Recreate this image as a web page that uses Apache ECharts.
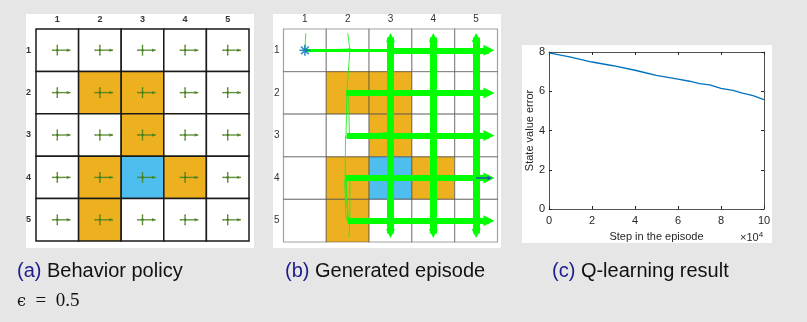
<!DOCTYPE html>
<html>
<head>
<meta charset="utf-8">
<script src="https://cdn.jsdelivr.net/npm/echarts@6/dist/echarts.min.js"></script>
<style>
html,body{margin:0;padding:0;background:#e6e6e6;}
#chart{width:807px;height:322px;}
</style>
</head>
<body>
<div id="chart"></div>
<script>
// ---------------- data ----------------
const gridCols = ['1', '2', '3', '4', '5'];
const gridRows = ['1', '2', '3', '4', '5'];
// forbidden cells as [col, row] (1-based)
const forbiddenCells = [[2, 2], [3, 2], [3, 3], [2, 4], [4, 4], [2, 5]];
const targetCell = [3, 4];
// behavior policy probabilities, order: up, right, down, left, stay (eps = 0.5, greedy = right)
const actionProbs = [0.1, 0.6, 0.1, 0.1, 0.1];
// generated episode: thick bands (many overlapping visits), [x1, y1, x2, y2] in grid coords
const episodeRowBands = [
  [3.0, 1.0, 5.3, 1.0],
  [1.97, 2.0, 5.3, 2.0],
  [1.98, 3.0, 5.3, 3.0],
  [1.95, 4.0, 5.3, 4.0],
  [2.0, 5.0, 5.3, 5.0]
];
const episodeColBands = [
  [3.0, 0.7, 3.0, 5.3],
  [4.0, 0.7, 4.0, 5.3],
  [5.0, 0.7, 5.0, 5.3]
];
const episodeRow1Start = [[1.0, 1.0], [3.0, 1.0]];
// sparse (thin) parts of the episode
const episodeThin = [
  [[1.02, 0.6], [1.0, 1.0], [2.05, 0.97], [2.0, 0.6]],
  [[1.0, 1.0], [2.1, 1.03], [2.05, 0.95], [1.97, 1.0]],
  [[2.05, 1.0], [1.98, 2.0], [1.96, 3.05], [2.95, 2.92]],
  [[2.02, 2.0], [2.04, 3.0], [3.0, 3.0]],
  [[1.95, 3.0], [1.94, 4.0], [2.02, 5.02], [3.0, 4.95]],
  [[2.05, 4.0], [2.05, 5.05], [2.03, 5.4]],
  [[1.97, 4.05], [2.0, 5.0], [3.0, 5.0]],
  [[2.0, 4.0], [1.93, 4.05], [1.96, 4.98]]
];
const startState = [1, 1];
const finalArrow = [[5.0, 4.0], [5.35, 4.0]];
// Q-learning result: state value error vs step (x in units of 1e4)
const stepX = [0, 0.96, 2.0, 2.98, 4.0, 4.53, 4.99, 5.53, 6.0, 6.54, 7.0, 7.47, 8.0, 8.56, 9.0, 9.49, 10];
const valueError = [7.95, 7.75, 7.49, 7.30, 7.07, 6.93, 6.81, 6.71, 6.62, 6.51, 6.39, 6.32, 6.15, 6.05, 5.91, 5.78, 5.57];

// ---------------- helpers ----------------
const ORANGE = '#EDB120', BLUE = '#4DBEEE';
function cellType(c, r) {
  if (c === targetCell[0] && r === targetCell[1]) return 2;
  for (const f of forbiddenCells) if (f[0] === c && f[1] === r) return 1;
  return 0;
}
const cellData = [];
for (let r = 1; r <= 5; r++) for (let c = 1; c <= 5; c++) cellData.push([c - 1, r - 1, cellType(c, r)]);

function cellRender(stroke, lw) {
  return function (params, api) {
    const p = api.coord([api.value(0), api.value(1)]);
    const s = api.size([1, 1]);
    const t = api.value(2);
    return {
      type: 'rect',
      shape: { x: p[0] - s[0] / 2, y: p[1] - s[1] / 2, width: s[0], height: s[1] },
      style: { fill: t === 2 ? BLUE : (t === 1 ? ORANGE : '#ffffff'), stroke: stroke, lineWidth: lw }
    };
  };
}

const dirs = [[0, -1], [1, 0], [0, 1], [-1, 0]];
function policyRender(params, api) {
  const p = api.coord([api.value(0), api.value(1)]);
  const s = api.size([1, 1]);
  const col = 'rgba(72,128,30,0.85)';
  const children = [];
  for (let a = 0; a < 4; a++) {
    const len = 0.4 * Math.sqrt(actionProbs[a]) * s[0];
    const dx = dirs[a][0], dy = dirs[a][1];
    const ex = p[0] + dx * len, ey = p[1] + dy * len;
    children.push({ type: 'line', shape: { x1: p[0], y1: p[1], x2: ex, y2: ey }, style: { stroke: col, lineWidth: 1.4 } });
    const hl = len * 0.28, hw = len * 0.13;
    const bx = ex - dx * hl, by = ey - dy * hl;
    children.push({ type: 'polygon', shape: { points: [[ex, ey], [bx - dy * hw, by + dx * hw], [bx + dy * hw, by - dx * hw]] }, style: { fill: col } });
  }
  children.push({ type: 'circle', shape: { cx: p[0], cy: p[1], r: 1.3 }, style: { fill: col } });
  return { type: 'group', children: children };
}

// ---------------- option ----------------
const labelFontA = { fontSize: 9, color: '#333', fontWeight: 'bold', fontFamily: 'Liberation Sans' };
const labelFontB = { fontSize: 10, color: '#333', fontFamily: 'Liberation Sans' };
const cFont = { fontSize: 11, color: '#262626', fontFamily: 'Liberation Sans' };
const cLine = { onZero: false, lineStyle: { color: '#262626', width: 0.8 } };
const cTick = { inside: true, length: 3, lineStyle: { color: '#262626' } };

const option = {
  animation: false,
  backgroundColor: '#e6e6e6',
  grid: [
    { left: 36, top: 29, width: 213, height: 212 },
    { left: 283.5, top: 29, width: 214, height: 213 },
    { left: 549, top: 52, width: 215, height: 157 }
  ],
  xAxis: [
    { gridIndex: 0, type: 'category', data: gridCols, position: 'top', axisLine: { show: false }, axisTick: { show: false }, axisLabel: Object.assign({ margin: 5 }, labelFontA), splitLine: { show: false } },
    { gridIndex: 0, type: 'value', min: 0.5, max: 5.5, show: false },
    { gridIndex: 1, type: 'category', data: gridCols, position: 'top', axisLine: { show: false }, axisTick: { show: false }, axisLabel: Object.assign({ margin: 5 }, labelFontB), splitLine: { show: false } },
    { gridIndex: 1, type: 'value', min: 0.5, max: 5.5, show: false },
    { gridIndex: 2, type: 'value', min: 0, max: 10, interval: 2, position: 'bottom',
      axisLine: cLine, axisTick: cTick,
      axisLabel: Object.assign({ margin: 6 }, cFont), splitLine: { show: false },
      name: 'Step in the episode', nameLocation: 'middle', nameGap: 22, nameTextStyle: cFont },
    { gridIndex: 2, type: 'value', min: 0, max: 10, interval: 2, position: 'top',
      axisLine: cLine, axisTick: cTick,
      axisLabel: { show: false }, splitLine: { show: false } }
  ],
  yAxis: [
    { gridIndex: 0, type: 'category', data: gridRows, inverse: true, axisLine: { show: false }, axisTick: { show: false }, axisLabel: Object.assign({ margin: 5 }, labelFontA), splitLine: { show: false } },
    { gridIndex: 0, type: 'value', min: 0.5, max: 5.5, inverse: true, show: false },
    { gridIndex: 1, type: 'category', data: gridRows, inverse: true, axisLine: { show: false }, axisTick: { show: false }, axisLabel: Object.assign({ margin: 4 }, labelFontB), splitLine: { show: false } },
    { gridIndex: 1, type: 'value', min: 0.5, max: 5.5, inverse: true, show: false },
    { gridIndex: 2, type: 'value', min: 0, max: 8, interval: 2, position: 'left',
      axisLine: cLine, axisTick: cTick,
      axisLabel: Object.assign({ margin: 4 }, cFont), splitLine: { show: false },
      name: 'State value error', nameLocation: 'middle', nameGap: 13, nameRotate: 90, nameTextStyle: cFont },
    { gridIndex: 2, type: 'value', min: 0, max: 8, interval: 2, position: 'right',
      axisLine: cLine, axisTick: cTick,
      axisLabel: { show: false }, splitLine: { show: false } }
  ],
  graphic: [
    { type: 'rect', z: -1, shape: { x: 26, y: 14, width: 228, height: 234 }, style: { fill: '#ffffff' } },
    { type: 'rect', z: -1, shape: { x: 273, y: 14, width: 228, height: 234 }, style: { fill: '#ffffff' } },
    { type: 'rect', z: -1, shape: { x: 522, y: 45, width: 250, height: 198 }, style: { fill: '#ffffff' } },
    { type: 'text', left: 740, top: 231, style: { text: '×10{s|4}', font: '11px Liberation Sans', fill: '#262626',
      rich: { s: { fontSize: 8, verticalAlign: 'top', padding: [0, 0, 6, 0], fill: '#262626' } } } },
    { type: 'text', left: 17, top: 261, style: { text: '{a|(a)} Behavior policy', font: '20px Liberation Sans', fill: '#111',
      rich: { a: { fill: '#1c1c8c', fontSize: 20, fontFamily: 'Liberation Sans' } } } },
    { type: 'text', left: 285, top: 261, style: { text: '{a|(b)} Generated episode', font: '20px Liberation Sans', fill: '#111',
      rich: { a: { fill: '#1c1c8c', fontSize: 20, fontFamily: 'Liberation Sans' } } } },
    { type: 'text', left: 552, top: 261, style: { text: '{a|(c)} Q-learning result', font: '20px Liberation Sans', fill: '#111',
      rich: { a: { fill: '#1c1c8c', fontSize: 20, fontFamily: 'Liberation Sans' } } } },
    { type: 'text', left: 17, top: 292, style: { text: '{e|ϵ}  =  0.5', font: '19px Liberation Serif', fill: '#111',
      rich: { e: { fontFamily: 'DejaVu Serif', fontSize: 16, fill: '#111' } } } }
  ],
  series: [
    { type: 'custom', xAxisIndex: 0, yAxisIndex: 0, data: cellData, renderItem: cellRender('#1a1a1a', 1.5), z: 1 },
    { type: 'custom', xAxisIndex: 0, yAxisIndex: 0, data: cellData, renderItem: policyRender, z: 3 },
    { type: 'custom', xAxisIndex: 2, yAxisIndex: 2, data: cellData, renderItem: cellRender('rgba(70,70,70,0.5)', 1.2), z: 1 },
    { type: 'lines', coordinateSystem: 'cartesian2d', xAxisIndex: 3, yAxisIndex: 3, z: 3,
      polyline: true, lineStyle: { color: '#22ee22', width: 1, opacity: 0.9 },
      data: episodeThin.map(p => ({ coords: p })) },
    { type: 'lines', coordinateSystem: 'cartesian2d', xAxisIndex: 3, yAxisIndex: 3, z: 4,
      lineStyle: { color: '#00ff00', width: 3, opacity: 1 },
      data: [{ coords: episodeRow1Start }] },
    { type: 'lines', coordinateSystem: 'cartesian2d', xAxisIndex: 3, yAxisIndex: 3, z: 4,
      symbol: ['none', 'triangle'], symbolSize: 11,
      lineStyle: { color: '#00ff00', width: 6, opacity: 1 },
      data: episodeRowBands.map(b => ({ coords: [[b[0], b[1]], [b[2], b[3]]] })) },
    { type: 'lines', coordinateSystem: 'cartesian2d', xAxisIndex: 3, yAxisIndex: 3, z: 4,
      symbol: ['triangle', 'triangle'], symbolSize: 9,
      lineStyle: { color: '#00ff00', width: 7, opacity: 1 },
      data: episodeColBands.map(b => ({ coords: [[b[0], b[1]], [b[2], b[3]]] })) },
    { type: 'lines', coordinateSystem: 'cartesian2d', xAxisIndex: 3, yAxisIndex: 3, z: 5,
      symbol: ['none', 'arrow'], symbolSize: 4,
      lineStyle: { color: '#1f4fb5', width: 1.5, opacity: 1 },
      data: [{ coords: finalArrow }] },
    { type: 'scatter', xAxisIndex: 3, yAxisIndex: 3, z: 6, data: [startState],
      symbol: 'path://M0,-1L0,1M-1,0L1,0M-0.7,-0.7L0.7,0.7M-0.7,0.7L0.7,-0.7', symbolSize: 11,
      itemStyle: { color: 'rgba(0,0,0,0)', borderColor: '#0072BD', borderWidth: 1.6 } },
    { type: 'line', xAxisIndex: 4, yAxisIndex: 4, z: 3, showSymbol: false, symbol: 'none',
      data: stepX.map((x, i) => [x, valueError[i]]),
      lineStyle: { color: '#0072BD', width: 1.3 } }
  ]
};

const chart = echarts.init(document.getElementById('chart'), null, { renderer: 'canvas' });
chart.setOption(option);
</script>
</body>
</html>
